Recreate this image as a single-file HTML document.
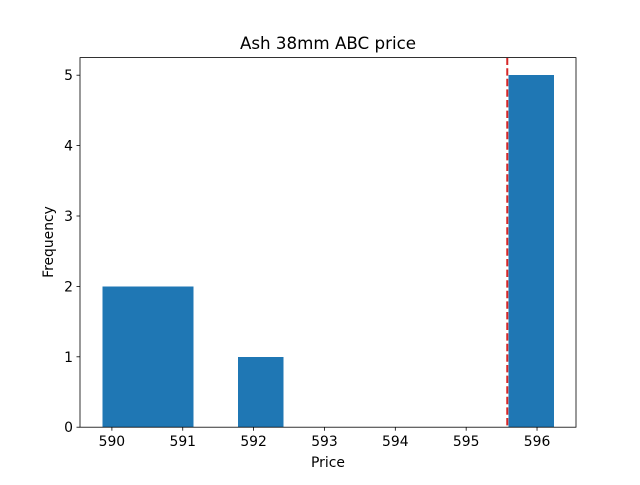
<!DOCTYPE html>
<html><head><meta charset="utf-8"><style>
body{margin:0;background:#fff}
svg text{font-family:"DejaVu Sans","Liberation Sans",sans-serif;fill:#000}
</style></head><body>
<svg id="chart" width="640" height="480" xmlns="http://www.w3.org/2000/svg">
<rect width="640" height="480" fill="#fff"/>
<text x="328" y="49" font-size="16.7" text-anchor="middle">Ash 38mm ABC price</text>
<g id="bars"></g>
<g id="axes"></g>
<text x="328" y="467" font-size="13.9" text-anchor="middle">Price</text>
<text transform="translate(53,242) rotate(-90)" font-size="13.9" text-anchor="middle">Frequency</text>
</svg>
<script>
const binStart = 589.87;
const binEnd = 596.23;
const counts = [2,2,0,1,0,0,0,0,0,5];
const xTicks = [590,591,592,593,594,595,596];
const yTicks = [0,1,2,3,4,5];
const refLine = [595.58];
const L=80,R=576,T=57.6,B=427.2;
const xMin=589.55,xMax=596.55,yMax=5.25;
const sx=v=>L+(v-xMin)/(xMax-xMin)*(R-L);
const sy=v=>B-v/yMax*(B-T);
const NS='http://www.w3.org/2000/svg';
function mk(tag,attrs,parent){const e=document.createElementNS(NS,tag);for(const k in attrs)e.setAttribute(k,attrs[k]);parent.appendChild(e);return e;}
const bars=document.getElementById('bars'),axes=document.getElementById('axes');
const w=(binEnd-binStart)/counts.length;
counts.forEach((c,i)=>{if(!c)return;const x0=sx(binStart+i*w),x1=sx(binStart+(i+1)*w);
const r=mk('rect',{x:x0,y:sy(c),width:x1-x0+0.6,height:sy(0)-sy(c),fill:'#1f77b4','shape-rendering':'crispEdges'},bars);

});
refLine.forEach(v=>{const l=mk('line',{x1:sx(v),x2:sx(v),y1:T,y2:B,stroke:'#d62728','stroke-width':2,'stroke-dasharray':'7.4,3.2'},bars);

});
const fr=mk('rect',{x:L,y:T,width:R-L,height:B-T,fill:'none',stroke:'#000','stroke-width':0.8},axes);


xTicks.forEach(t=>{const x=sx(t);mk('line',{x1:x,x2:x,y1:B,y2:B+3.5,stroke:'#000','stroke-width':0.8},axes);
const tx=mk('text',{x:x,y:B+19,'font-size':13.9,'text-anchor':'middle'},axes);tx.textContent=t;

});
yTicks.forEach(t=>{const y=sy(t);mk('line',{x1:L-3.5,x2:L,y1:y,y2:y,stroke:'#000','stroke-width':0.8},axes);
const tx=mk('text',{x:L-7,y:y+5,'font-size':13.9,'text-anchor':'end'},axes);tx.textContent=t;

});
</script>
</body></html>
